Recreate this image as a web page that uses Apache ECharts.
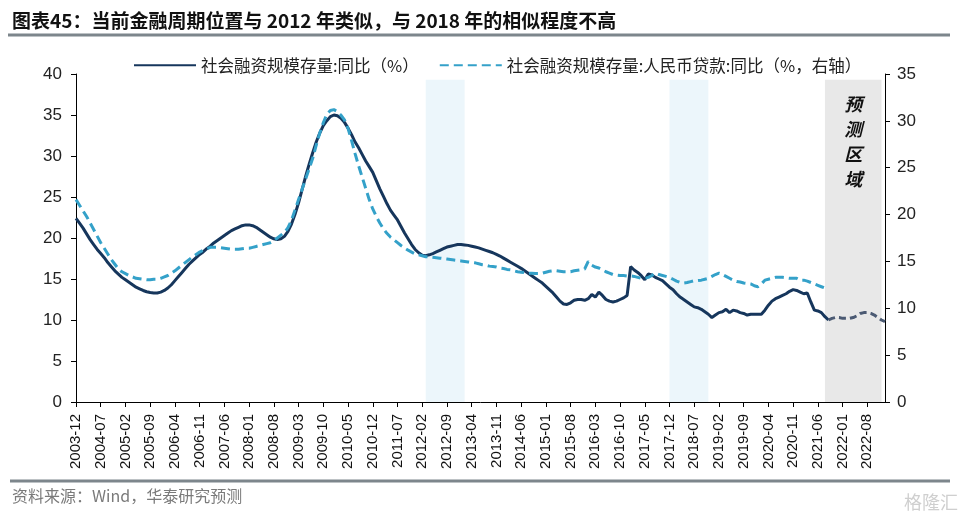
<!DOCTYPE html>
<html>
<head>
<meta charset="utf-8">
<script src="https://cdn.jsdelivr.net/npm/echarts@6/dist/echarts.min.js"></script>
<style>
html, body { margin: 0; padding: 0; background: #fff; }
#chart { width: 966px; height: 520px; }
</style>
</head>
<body>
<div id="chart"></div>
<script>
// 月度类目：2003-12 ~ 2023-01
var firstMonth = [2003, 12];
var monthCount = 230;
var months = [];
for (var k = 0; k < monthCount; k++) {
    var t = firstMonth[1] - 1 + k;
    var yy = firstMonth[0] + Math.floor(t / 12);
    var mm = t % 12 + 1;
    months.push(yy + '-' + (mm < 10 ? '0' : '') + mm);
}

// 社会融资规模存量:同比（%），2003-12 ~ 2021-09
var tsfYoY = [
    22.4,
    21.8, 21.2, 20.5, 19.8, 19.2, 18.6, 18.1, 17.6, 17.0, 16.5, 16.0, 15.6,
    15.2, 14.9, 14.6, 14.3, 14.0, 13.8, 13.6, 13.45, 13.35, 13.3, 13.3, 13.4,
    13.6, 13.9, 14.3, 14.8, 15.3, 15.8, 16.3, 16.8, 17.2, 17.6, 18.0, 18.3,
    18.7, 19.0, 19.4, 19.7, 20.0, 20.3, 20.6, 20.9, 21.1, 21.3, 21.5, 21.6,
    21.6, 21.5, 21.3, 21.0, 20.7, 20.4, 20.1, 19.9, 19.8, 19.9, 20.2, 20.8,
    21.7, 22.9, 24.3, 25.9, 27.5, 29.0, 30.4, 31.7, 32.8, 33.7, 34.3, 34.8,
    35.0, 34.9, 34.6, 34.1, 33.4, 32.6, 31.7, 31.0, 30.2, 29.4, 28.7, 28.0,
    27.0, 26.0, 25.1, 24.2, 23.4, 22.8, 22.2, 21.4, 20.6, 19.9, 19.2, 18.6,
    18.2, 17.9, 17.85, 17.95, 18.1, 18.3, 18.5, 18.7, 18.9, 19.0, 19.1, 19.2,
    19.2, 19.15, 19.1, 19.0, 18.9, 18.8, 18.65, 18.5, 18.35, 18.2, 18.0, 17.8,
    17.55, 17.3, 17.05, 16.8, 16.55, 16.3, 16.0, 15.7, 15.4, 15.1, 14.8, 14.5,
    14.1, 13.7, 13.3, 12.8, 12.3, 11.95, 11.9, 12.1, 12.4, 12.5, 12.5, 12.4,
    12.6, 13.1, 12.8, 13.4, 13.0, 12.5, 12.3, 12.2, 12.3, 12.5, 12.7, 13.0,
    16.5, 16.1, 15.8, 15.4, 14.9, 15.6, 15.5, 15.2, 15.0, 14.8, 14.4, 14.0,
    13.7, 13.2, 12.8, 12.5, 12.2, 11.9, 11.6, 11.5, 11.3, 11.0, 10.7, 10.3,
    10.6, 10.9, 11.0, 11.3, 10.9, 11.2, 11.1, 10.9, 10.8, 10.6, 10.7, 10.7,
    10.7, 10.7, 11.2, 11.8, 12.3, 12.6, 12.8, 13.0, 13.2, 13.5, 13.7, 13.6,
    13.4, 13.2, 13.3, 12.2, 11.2, 11.1, 10.9, 10.4, 10.0
];

// 预测值：2021-09 ~ 2023-01
var forecastStart = '2021-09';
var tsfForecast = [
    10.0, 10.2, 10.3, 10.3,
    10.2, 10.2, 10.2, 10.3, 10.5, 10.8, 10.9, 10.9, 10.8, 10.6, 10.3, 10.0,
    9.8
];

// 社会融资规模存量:人民币贷款:同比（%，右轴），2003-12 ~ 2021-09
var loanYoY = [
    21.6,
    21.0, 20.4, 19.8, 19.1, 18.4, 17.7, 17.0, 16.4, 15.8, 15.2, 14.7, 14.2,
    13.9, 13.7, 13.5, 13.35, 13.2, 13.15, 13.1, 13.05, 13.05, 13.1, 13.1, 13.2,
    13.35, 13.5, 13.75, 14.0, 14.3, 14.6, 14.9, 15.2, 15.5, 15.75, 16.0, 16.2,
    16.35, 16.5, 16.5, 16.5, 16.45, 16.4, 16.35, 16.3, 16.3, 16.3, 16.35, 16.4,
    16.4, 16.5, 16.6, 16.7, 16.8, 16.9, 17.0, 17.2, 17.5, 17.8, 18.1, 18.6,
    19.4, 20.5, 21.6, 22.7, 23.8, 24.9, 26.0, 27.4, 28.7, 29.8, 30.7, 31.1,
    31.2, 31.0, 30.6, 30.1, 29.2, 27.9, 26.5, 25.2, 24.0, 22.8, 21.6, 20.6,
    19.8, 19.1, 18.5, 18.0, 17.6, 17.3, 17.0, 16.7, 16.45, 16.2, 16.0, 15.8,
    15.7, 15.6, 15.5, 15.5, 15.45, 15.4, 15.35, 15.3, 15.25, 15.2, 15.15, 15.1,
    15.05, 15.0, 14.95, 14.9, 14.85, 14.75, 14.65, 14.6, 14.5, 14.45, 14.4, 14.3,
    14.25, 14.15, 14.1, 14.0, 13.9, 13.85, 13.8, 13.75, 13.75, 13.7, 13.7, 13.75,
    13.85, 13.95, 14.0, 14.0, 13.95, 13.9, 13.9, 13.9, 14.0, 14.05, 14.1, 14.2,
    15.0, 14.6, 14.4, 14.3, 14.1, 13.9, 13.75, 13.6, 13.55, 13.5, 13.5, 13.45,
    13.45, 13.4, 13.3, 13.2, 13.2, 13.3, 13.5, 13.75, 13.6, 13.5, 13.4, 13.3,
    13.1, 12.9, 12.75, 12.7, 12.75, 12.85, 12.95, 12.95, 13.0, 13.1, 13.2, 13.4,
    13.6, 13.75, 13.6, 13.4, 13.2, 13.0, 12.85, 12.8, 12.7, 12.65, 12.6, 12.4,
    12.3, 12.6, 13.0, 13.1, 13.2, 13.3, 13.3, 13.3, 13.25, 13.2, 13.2, 13.2,
    13.0, 13.0, 12.9, 12.75, 12.6, 12.45, 12.3, 12.15, 12.0
];

// 阴影区间
var blueZones = [['2012-03', '2013-02'], ['2017-12', '2018-11']];
var forecastZone = ['2021-08', '2022-12'];

// 坐标轴范围
var leftAxis = { min: 0, max: 40, interval: 5 };
var rightAxis = { min: 0, max: 35, interval: 5 };
var shadeTop = 39.3;

var nameTsf = '社会融资规模存量:同比（%）';
var nameLoan = '社会融资规模存量:人民币贷款:同比（%，右轴）';

var cjk = '"Noto Sans CJK SC", sans-serif';
var latin = '"Liberation Sans", Arial, sans-serif';

// 预测序列前面补空
var forecastData = [];
var fIdx = months.indexOf(forecastStart);
for (var i = 0; i < months.length; i++) {
    forecastData.push(i >= fIdx ? tsfForecast[i - fIdx] : null);
}

var areaData = blueZones.map(function (z) {
    return [{ xAxis: z[0], yAxis: shadeTop, itemStyle: { color: '#ecf6fb' } }, { xAxis: z[1], yAxis: 0 }];
});
areaData.push([{
    xAxis: forecastZone[0], yAxis: shadeTop,
    itemStyle: { color: '#e8e8e8' },
    label: {
        show: true,
        position: 'insideTop',
        distance: 12,
        formatter: '预\n测\n区\n域',
        fontFamily: cjk,
        fontSize: 18,
        fontWeight: 'bold',
        fontStyle: 'italic',
        lineHeight: 25,
        color: '#111'
    }
}, { xAxis: forecastZone[1], yAxis: 0 }]);

function valueAxis(range, pos, margin) {
    return {
        type: 'value',
        position: pos,
        min: range.min,
        max: range.max,
        interval: range.interval,
        splitLine: { show: false },
        axisLine: { show: true, lineStyle: { color: '#000', width: 1 } },
        axisTick: { show: true, inside: false, length: 5, lineStyle: { color: '#000' } },
        axisLabel: { fontFamily: latin, fontSize: 17, color: '#222', margin: margin }
    };
}

var chart = echarts.init(document.getElementById('chart'));
chart.setOption({
    animation: false,
    backgroundColor: '#fff',
    grid: { left: 76, right: 81, top: 74, bottom: 118 },
    legend: {
        data: [nameTsf, nameLoan],
        left: 128,
        top: 52,
        itemWidth: 62,
        itemHeight: 14,
        itemGap: 20,
        itemStyle: { opacity: 0 },
        textStyle: { fontFamily: cjk, fontSize: 16.5, color: '#222' }
    },
    xAxis: {
        type: 'category',
        data: months,
        boundaryGap: false,
        axisLine: { lineStyle: { color: '#000', width: 1 } },
        axisTick: { interval: 6, length: 5, lineStyle: { color: '#000' } },
        axisLabel: { interval: 6, rotate: 90, fontFamily: latin, fontSize: 15, color: '#111', margin: 12 }
    },
    yAxis: [valueAxis(leftAxis, 'left', 14), valueAxis(rightAxis, 'right', 12)],
    graphic: [
        {
            type: 'text', left: 12, top: 11,
            style: {
                text: '图表45：当前金融周期位置与 2012 年类似，与 2018 年的相似程度不高',
                font: 'bold 19px ' + cjk, fill: '#111'
            }
        },
        { type: 'line', shape: { x1: 8, y1: 35, x2: 950, y2: 35 }, style: { stroke: '#7d868c', lineWidth: 3 } },
        { type: 'line', shape: { x1: 10, y1: 481, x2: 950, y2: 481 }, style: { stroke: '#7d868c', lineWidth: 3 } },
        {
            type: 'text', left: 12, top: 488,
            style: { text: '资料来源：Wind，华泰研究预测', font: '16px ' + cjk, fill: '#7a7a7a' }
        },
        {
            type: 'text', right: 8, top: 493,
            style: { text: '格隆汇', font: '18px ' + cjk, fill: '#cfcfcf' }
        }
    ],
    series: [
        {
            name: 'shade',
            type: 'line',
            data: [],
            z: 1,
            silent: true,
            markArea: { silent: true, data: areaData }
        },
        {
            name: nameTsf,
            type: 'line',
            yAxisIndex: 0,
            data: tsfYoY,
            symbol: 'none',
            z: 3,
            itemStyle: { color: '#16365c' },
            lineStyle: { color: '#16365c', width: 3 }
        },
        {
            name: nameLoan,
            type: 'line',
            yAxisIndex: 1,
            data: loanYoY,
            symbol: 'none',
            z: 3,
            itemStyle: { color: '#34a1c9' },
            lineStyle: { color: '#34a1c9', width: 3, type: [9, 5] }
        },
        {
            name: '预测',
            type: 'line',
            yAxisIndex: 0,
            data: forecastData,
            symbol: 'none',
            z: 3,
            itemStyle: { color: '#4b5a73' },
            lineStyle: { color: '#4b5a73', width: 3, type: [7, 4] }
        }
    ]
});
window.addEventListener('resize', function () {
    chart.resize();
});
</script>
</body>
</html>
